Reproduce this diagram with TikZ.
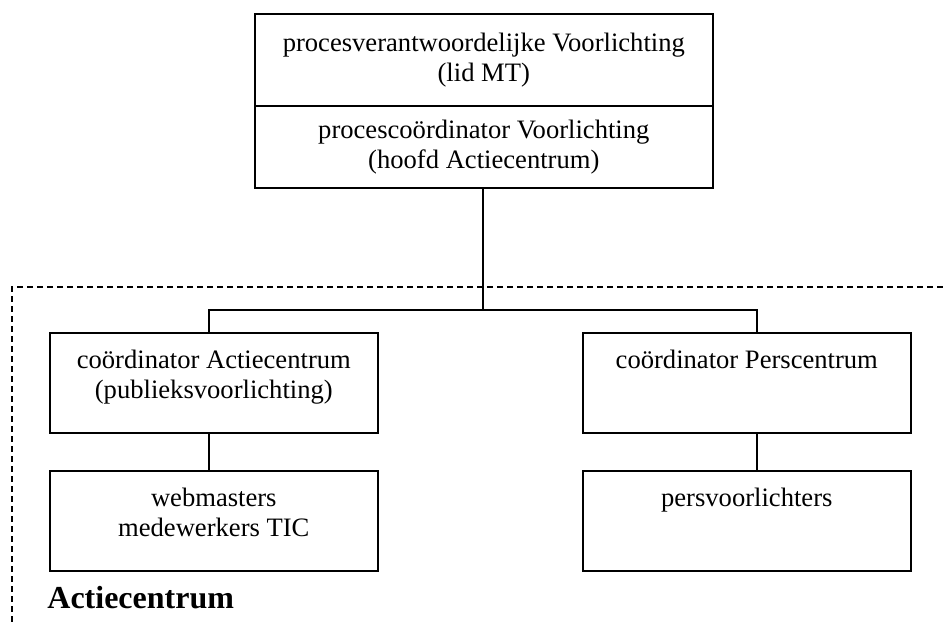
\documentclass[tikz,border=0pt]{standalone}
\usepackage{fontspec}
\setmainfont{Liberation Serif}
\usetikzlibrary{positioning}
\tikzset{
  box/.style={draw, line width=0.8pt, align=center, inner sep=0pt,
    minimum width=164pt, minimum height=50pt, font=\fontsize{13.3}{15}\selectfont},
  tekst/.style={align=center, inner sep=0pt, font=\fontsize{13.3}{15}\selectfont},
  lijn/.style={line width=0.8pt},
}
\begin{document}
\begin{tikzpicture}[x=0.5pt,y=-0.5pt]
\useasboundingbox (0,0) rectangle (943,626);
\def\bus{310}
% procesblok bovenaan
\node[box, minimum width=229pt, minimum height=46pt, anchor=north west] (verantw) at (254,13)
  {procesverantwoordelijke Voorlichting\\(lid MT)};
\node[box, minimum width=229pt, minimum height=41pt, anchor=north west] (coord) at (254,105)
  {procescoördinator Voorlichting\\(hoofd Actiecentrum)};
% Actiecentrum (gestippeld kader)
\draw[lijn, dash pattern=on 3pt off 2pt] (943,287) -- (12,287) -- (12,626);
\node[box, anchor=north west] (actie) at (49,332) {};
\node[box, anchor=north west] (pers) at (582,332) {};
\node[box, anchor=north west] (web) at (49,470) {};
\node[box, anchor=north west] (pvl) at (582,470) {};
\node[tekst, below=9pt of actie.north] (actietxt) {coördinator Actiecentrum\\(publieksvoorlichting)};
\node[tekst, below=9pt of pers.north] (perstxt) {coördinator Perscentrum};
\node[tekst, below=9pt of web.north] (webtxt) {webmasters\\medewerkers TIC};
\node[tekst, below=9pt of pvl.north] (pvltxt) {persvoorlichters};
\node[anchor=base west, inner sep=0pt, font=\fontsize{16}{19}\bfseries\selectfont] (naam) at (47,608) {Actiecentrum};
% verbindingen
\coordinate (midden) at (483,\bus);
\coordinate (links) at (209,\bus);
\coordinate (rechts) at (757,\bus);
\draw[lijn] (coord.south -| midden) -- (midden);
\draw[lijn] (links |- actie.north) -- (links) -- (rechts) -- (rechts |- pers.north);
\draw[lijn] (links |- actie.south) -- (links |- web.north);
\draw[lijn] (rechts |- pers.south) -- (rechts |- pvl.north);
\end{tikzpicture}
\end{document}
